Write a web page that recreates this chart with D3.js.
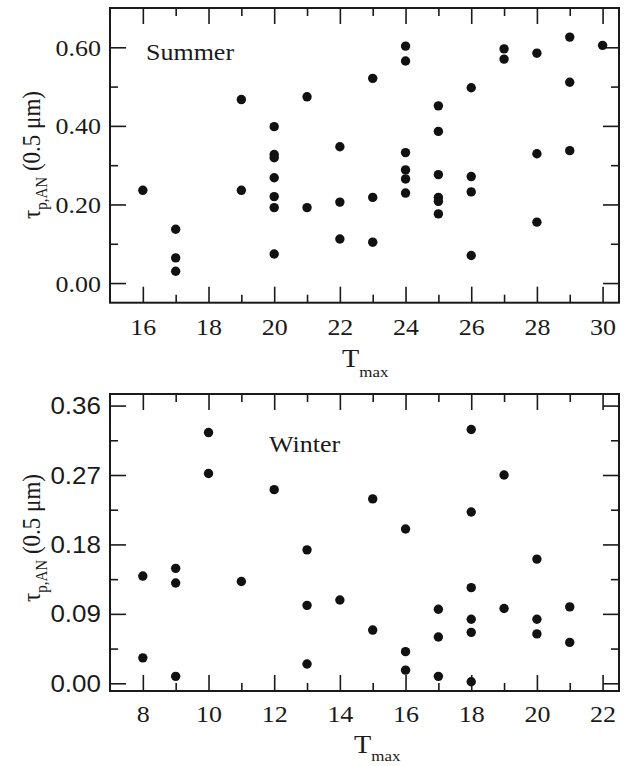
<!DOCTYPE html>
<html>
<head>
<meta charset="utf-8">
<script src="https://cdn.jsdelivr.net/npm/d3@7"></script>
<style>
  html, body { margin: 0; padding: 0; background: #ffffff; }
  svg { display: block; }
</style>
</head>
<body>
<svg id="chart" width="626" height="766"></svg>
<script>
// ---------- DATA ----------
const summerT = [16,17,17,17,19,19,20,20,20,20,20,20,20,21,21,22,22,22,23,23,23,
  24,24,24,24,24,24,25,25,25,25,25,25,26,26,26,26,27,27,28,28,28,29,29,29,30];
const summerTau = [0.236,0.137,0.064,0.030,0.467,0.236,0.398,0.327,0.319,0.268,0.220,0.192,0.074,
  0.474,0.192,0.347,0.206,0.112,0.521,0.218,0.104,
  0.603,0.565,0.332,0.288,0.265,0.229,0.451,0.386,0.276,0.218,0.208,0.176,
  0.497,0.271,0.232,0.070,0.596,0.570,0.585,0.329,0.155,0.626,0.511,0.337,0.605];

const winterT = [8,8,9,9,9,10,10,11,12,13,13,13,14,15,15,16,16,16,17,17,17,
  18,18,18,18,18,18,19,19,20,20,20,21,21];
const winterTau = [0.139,0.033,0.149,0.130,0.009,0.325,0.272,0.132,0.251,0.173,0.101,0.025,0.108,
  0.239,0.069,0.200,0.041,0.017,0.096,0.060,0.009,
  0.329,0.222,0.124,0.083,0.066,0.002,0.270,0.097,0.161,0.083,0.064,0.099,0.053];

const summerXMajor = [16,18,20,22,24,26,28,30];
const summerXMinor = [17,19,21,23,25,27,29];
const summerYMajor = [0.0,0.2,0.4,0.6];
const summerYMinor = [0.1,0.3,0.5];

const winterXMajor = [8,10,12,14,16,18,20,22];
const winterXMinor = [9,11,13,15,17,19,21];
const winterYMajor = [0.0,0.09,0.18,0.27,0.36];
const winterYMinor = [0.045,0.135,0.225,0.315];

// ---------- DRAW ----------
const svg = d3.select("#chart");
const SERIF = '"Liberation Serif"';
const SANS = '"Liberation Sans"';
const SX = 1.13;
const INK = "#1a1a1a";

function panel(cfg) {
  const g = svg.append("g");
  const x = d3.scaleLinear().domain(cfg.xDomain).range([110, 619]);
  const y = d3.scaleLinear().domain(cfg.yDomain).range([cfg.bottom, cfg.top]);

  function styleAxis(sel, font) {
    sel.attr("font-family", null).attr("font-size", null);
    sel.select(".domain").remove();
    sel.selectAll("line").attr("stroke", INK).attr("stroke-width", 1.6);
    sel.selectAll("text").attr("fill", INK)
      .style("font-family", font).style("font-size", "23px");
  }

  // bottom
  g.append("g").attr("transform", `translate(0,${cfg.bottom})`)
    .call(d3.axisBottom(x).tickValues(cfg.xMajor).tickSize(-16).tickPadding(0).tickFormat(d3.format("d")))
    .call(s => styleAxis(s, SERIF))
    .call(s => s.selectAll("text").attr("y", cfg.xLabelY).attr("dy", null)
      .attr("transform", `scale(${SX},1)`));
  g.append("g").attr("transform", `translate(0,${cfg.bottom})`)
    .call(d3.axisBottom(x).tickValues(cfg.xMinor).tickSize(-8).tickFormat(""))
    .call(s => styleAxis(s, SERIF));
  // top
  g.append("g").attr("transform", `translate(0,${cfg.top})`)
    .call(d3.axisTop(x).tickValues(cfg.xMajor).tickSize(-16).tickFormat(""))
    .call(s => styleAxis(s, SERIF));
  g.append("g").attr("transform", `translate(0,${cfg.top})`)
    .call(d3.axisTop(x).tickValues(cfg.xMinor).tickSize(-8).tickFormat(""))
    .call(s => styleAxis(s, SERIF));
  // left
  g.append("g").attr("transform", `translate(110,0)`)
    .call(d3.axisLeft(y).tickValues(cfg.yMajor).tickSize(-16).tickPadding(8).tickFormat(d3.format(".2f")))
    .call(s => styleAxis(s, cfg.yFont))
    .call(s => s.selectAll("text").attr("dy", "0.35em").attr("transform", `scale(${SX},1)`));
  g.append("g").attr("transform", `translate(110,0)`)
    .call(d3.axisLeft(y).tickValues(cfg.yMinor).tickSize(-8).tickFormat(""))
    .call(s => styleAxis(s, SERIF));
  // right
  g.append("g").attr("transform", `translate(619,0)`)
    .call(d3.axisRight(y).tickValues(cfg.yMajor).tickSize(-16).tickFormat(""))
    .call(s => styleAxis(s, SERIF));
  g.append("g").attr("transform", `translate(619,0)`)
    .call(d3.axisRight(y).tickValues(cfg.yMinor).tickSize(-8).tickFormat(""))
    .call(s => styleAxis(s, SERIF));

  // frame
  g.append("rect").attr("x", 110).attr("y", cfg.top)
    .attr("width", 509).attr("height", cfg.bottom - cfg.top)
    .attr("fill", "none").attr("stroke", INK).attr("stroke-width", 2);

  // points
  g.append("g").selectAll("circle").data(cfg.xs.map((t, i) => [t, cfg.ys[i]]))
    .join("circle")
    .attr("cx", d => x(d[0])).attr("cy", d => y(d[1]))
    .attr("r", 4.7).attr("fill", "#111");

  // season label
  g.append("text")
    .attr("transform", `translate(${cfg.seasonX},${cfg.seasonY}) scale(${SX},1)`)
    .style("font-family", SERIF).style("font-size", "23px").attr("fill", INK)
    .text(cfg.season);

  // y label
  const yl = g.append("text")
    .attr("transform", `translate(40,${cfg.yLabelCY}) scale(${SX},1) rotate(-90)`)
    .attr("text-anchor", "middle")
    .style("font-family", SERIF).style("font-size", "23px").attr("fill", INK);
  yl.append("tspan").text("τ");
  yl.append("tspan").attr("dy", 6).style("font-size", "15px").text("p,AN");
  yl.append("tspan").attr("dy", -6).text(" (0.5 μm)");

  // x label
  const xl = g.append("text")
    .attr("transform", `translate(${cfg.xTitleX},${cfg.xTitleY}) scale(${SX},1)`)
    .style("font-family", SERIF).style("font-size", "25px").attr("fill", INK);
  xl.append("tspan").text("T");
  xl.append("tspan").attr("dy", cfg.subDy).style("font-size", "15px").text("max");
}

panel({
  xs: summerT, ys: summerTau,
  xDomain: [15, 30.5], yDomain: [-0.05, 0.70],
  top: 8, bottom: 302.7,
  xMajor: summerXMajor, xMinor: summerXMinor,
  yMajor: summerYMajor, yMinor: summerYMinor,
  yFont: SERIF, xLabelY: 32,
  season: "Summer", seasonX: 146, seasonY: 60,
  yLabelCY: 155, xTitleX: 342, xTitleY: 367, subDy: 10
});

panel({
  xs: winterT, ys: winterTau,
  xDomain: [7, 22.5], yDomain: [-0.01, 0.375],
  top: 394, bottom: 691,
  xMajor: winterXMajor, xMinor: winterXMinor,
  yMajor: winterYMajor, yMinor: winterYMinor,
  yFont: SANS, xLabelY: 31,
  season: "Winter", seasonX: 269, seasonY: 452,
  yLabelCY: 538, xTitleX: 354, xTitleY: 753, subDy: 8
});
</script>
</body>
</html>
